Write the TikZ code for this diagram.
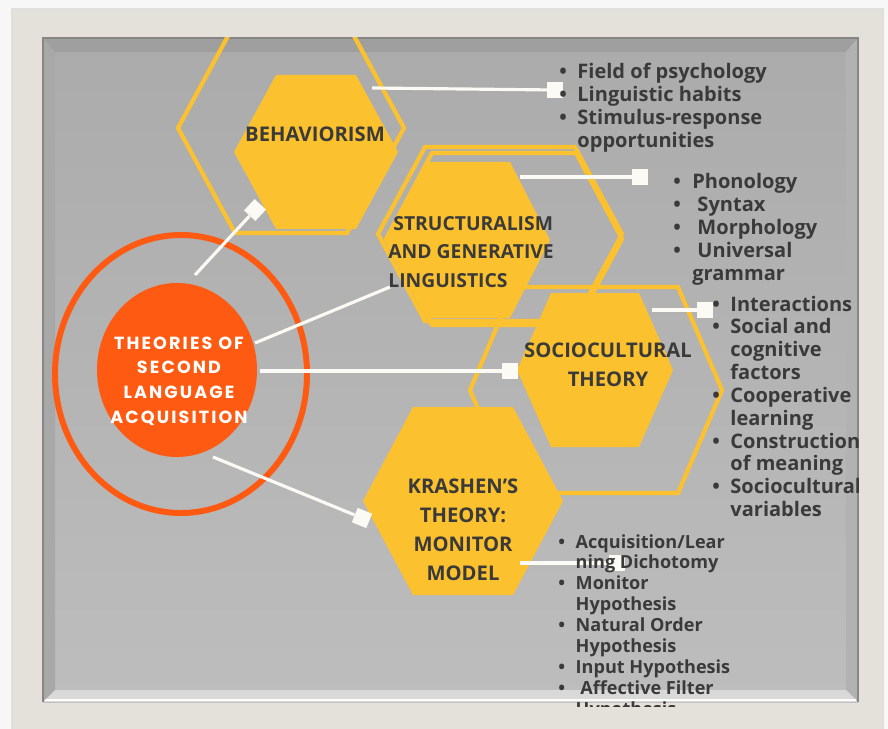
\documentclass[tikz,border=0pt]{standalone}
\usepackage{fontspec}
\setmainfont{Open Sans}
\newfontfamily\widefont{Poppins}[LetterSpace=12]
\usetikzlibrary{positioning}
\definecolor{hexyellow}{HTML}{FCC12E}
\definecolor{ringorange}{HTML}{FF5A12}
\definecolor{inktext}{HTML}{3A3A3A}
\definecolor{framecream}{HTML}{E3E1D9}
\definecolor{linkwhite}{HTML}{FBFAF4}
\definecolor{paneltop}{HTML}{ABABAB}
\definecolor{panelbot}{HTML}{BDBDBD}

% hexagon: [options]{cx}{cy}{half width}{half top edge}{half height}
\newcommand{\hexa}[6][]{%
  \path[#1] (#2-#4,#3) -- (#2-#5,#3-#6) -- (#2+#5,#3-#6) -- (#2+#4,#3)
    -- (#2+#5,#3+#6) -- (#2-#5,#3+#6) -- cycle;}

\begin{document}
\begin{tikzpicture}[x=0.02cm, y=-0.02cm,
  link/.style={draw=linkwhite, line width=1.8pt},
  endsq/.style={fill=linkwhite, minimum size=0.31cm, inner sep=0pt},
  hexlabel/.style={text=inktext, font=\fontsize{11.5}{16.5}\selectfont\bfseries, align=center, inner sep=0pt},
  bullets/.style={anchor=base west, inner sep=0pt, text=inktext, font=\fontsize{11.4}{13}\selectfont\bfseries},
  rim/.style={draw=hexyellow, line width=2.4pt},
  cell/.style={fill=hexyellow}]
  \useasboundingbox (0,0) rectangle (888,729);

  % frame and panel
  \fill[gray!6] (0,0) rectangle (888,729);
  \fill[gray!25] (11,8) rectangle (884,729);
  \fill[framecream] (13,10) rectangle (882,729);
  \shade[top color=paneltop, bottom color=panelbot] (43,38) rectangle (858,702);
  \fill[gray!75] (43,38) -- (858,38) -- (846,52) -- (55,52) -- cycle;
  \fill[gray!68] (43,38) -- (55,52) -- (55,690) -- (43,702) -- cycle;
  \fill[gray!60] (858,38) -- (858,702) -- (846,690) -- (846,52) -- cycle;
  \fill[gray!30] (43,702) -- (55,690) -- (846,690) -- (858,702) -- cycle;
  \draw[gray!95, line width=1pt] (43,702) -- (43,38) -- (858,38) -- (858,702);
  \draw[white, line width=1pt] (45,700) -- (856,700);

  \begin{scope}
    \clip (43,38) rectangle (858,706);

    % outlines
    \hexa[rim]{291}{128}{113}{56}{105}
    \hexa[rim]{500}{234}{122}{75}{87}
    \hexa[rim]{504}{239}{118}{72}{86}
    \hexa[rim]{596}{390}{126}{82}{103}

    % filled cells
    \hexa[cell]{316}{152}{82}{40}{77}
    \hexa[cell]{468}{240}{82}{42}{78}
    \hexa[cell]{595}{370}{78}{44}{77}
    \hexa[cell]{463}{501}{100}{50}{94}

    % centre
    \draw[ringorange, line width=3.4pt] (181,374) ellipse [x radius=126, y radius=139];
    \fill[ringorange] (177,370) ellipse [x radius=80, y radius=87];

    % connectors
    \coordinate (beh-out) at (372,88);
    \coordinate (str-out) at (520,177);
    \coordinate (soc-out) at (652,310);
    \coordinate (kra-out) at (520,563);
    \coordinate (core-beh) at (195,275);
    \coordinate (core-str) at (255,343);
    \coordinate (core-soc) at (260,371);
    \coordinate (core-kra) at (213,457);
    \coordinate (str-in) at (390,287);

    \node[endsq] (sq-beh) at (555,90) {};
    \node[endsq] (sq-str) at (640,177) {};
    \node[endsq] (sq-soc) at (705,310) {};
    \node[endsq] (sq-kra) at (617,563) {};
    \node[endsq, rotate=47] (sq-beh-in) at (255,210) {};
    \node[endsq] (sq-soc-in) at (510,371) {};
    \node[endsq, rotate=-22] (sq-kra-in) at (362,518) {};

    \draw[link] (beh-out) -- (sq-beh);
    \draw[link] (str-out) -- (sq-str);
    \draw[link] (soc-out) -- (sq-soc);
    \draw[link] (kra-out) -- (sq-kra);
    \draw[link] (core-beh) -- (sq-beh-in);
    \draw[link] (core-str) -- (str-in);
    \draw[link] (core-soc) -- (sq-soc-in);
    \draw[link] (core-kra) -- (sq-kra-in);

    % labels
    \node[text=white, font=\widefont\fontsize{10}{14}\selectfont\bfseries, align=center, inner sep=0pt]
      (core) at (179,381) {THEORIES OF\\SECOND\\LANGUAGE\\ACQUISITION};
    \node[hexlabel] (beh) at (315,134) {BEHAVIORISM};
    \node[hexlabel, font=\fontsize{11}{16.3}\selectfont\bfseries, align=left, anchor=west] (str) at (388,252)
      {\ STRUCTURALISM\\AND GENERATIVE\\LINGUISTICS};
    \node[hexlabel] (soc) at (608,365) {SOCIOCULTURAL\\THEORY};
    \node[hexlabel] (kra) at (463,530) {KRASHEN’S\\THEORY:\\MONITOR\\MODEL};

    % bullet lists
    \node[bullets] (list-beh) at (559,79) {\begin{tabular}[t]{@{}l@{\hspace{6pt}}l@{}}
      \textbullet & Field of psychology\\
      \textbullet & Linguistic habits\\
      \textbullet & Stimulus-response\\
                  & opportunities
    \end{tabular}};
    \node[bullets] (list-str) at (673,189) {\begin{tabular}[t]{@{}l@{\hspace{6.5pt}}l@{}}
      \textbullet & Phonology\\
      \textbullet & \ Syntax\\
      \textbullet & \ Morphology\\
      \textbullet & \ Universal\\
                  & grammar
    \end{tabular}};
    \node[bullets] (list-soc) at (712,311) {\begin{tabular}[t]{@{}l@{\hspace{6pt}}l@{}}
      \textbullet & Interactions\\
      \textbullet & Social and\\
                  & cognitive\\
                  & factors\\
      \textbullet & Cooperative\\
                  & learning\\
      \textbullet & Construction\\
                  & of meaning\\
      \textbullet & Sociocultural\\
                  & variables
    \end{tabular}};
    \node[bullets, font=\fontsize{10.3}{11.9}\selectfont\bfseries] (list-kra) at (558,548)
      {\begin{tabular}[t]{@{}l@{\hspace{6pt}}l@{}}
      \textbullet & Acquisition/Lear\\
                  & ning Dichotomy\\
      \textbullet & Monitor\\
                  & Hypothesis\\
      \textbullet & Natural Order\\
                  & Hypothesis\\
      \textbullet & Input Hypothesis\\
      \textbullet & \ Affective Filter\\
                  & Hypothesis
    \end{tabular}};
  \end{scope}
\end{tikzpicture}
\end{document}
